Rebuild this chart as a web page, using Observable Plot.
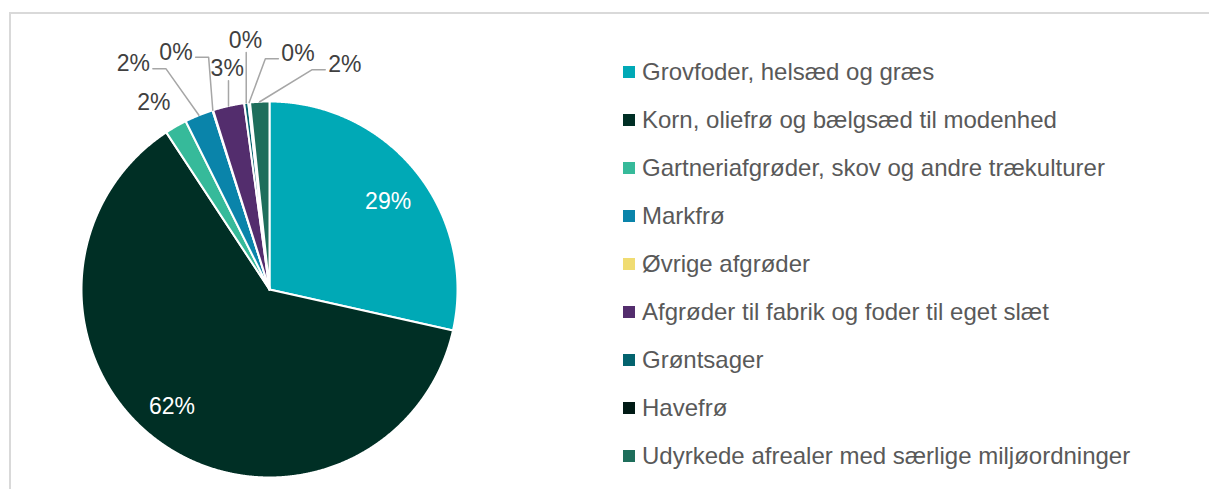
<!DOCTYPE html>
<html><head><meta charset="utf-8">
<script src="https://cdn.jsdelivr.net/npm/d3@7"></script>
<script src="https://cdn.jsdelivr.net/npm/@observablehq/plot@0.6"></script>
<style>
html,body{margin:0;padding:0;background:#fff;overflow:hidden}
#wrap{position:relative;width:1209px;height:489px;font-family:"Liberation Sans",Arial,sans-serif;overflow:hidden}
#frame{position:absolute;left:9px;top:12px;width:1300px;height:600px;border-top:2px solid #d9d9d9;border-left:2px solid #d9d9d9;box-sizing:border-box;pointer-events:none}
#chart{position:absolute;left:0;top:0}
#legend{position:absolute;left:623px;top:0}
.item{position:absolute;left:0;height:28px;display:flex;align-items:center;white-space:nowrap;font-size:24px;color:#595959}
.sw{width:12px;height:12px;margin-right:7px;flex:none}
</style></head><body>
<div id="wrap"><div id="chart"></div><div id="legend"></div><div id="frame"></div></div>
<script>
// ---- data ----
const categories = [
  "Grovfoder, helsæd og græs",
  "Korn, oliefrø og bælgsæd til modenhed",
  "Gartneriafgrøder, skov og andre trækulturer",
  "Markfrø",
  "Øvrige afgrøder",
  "Afgrøder til fabrik og foder til eget slæt",
  "Grøntsager",
  "Havefrø",
  "Udyrkede afrealer med særlige miljøordninger"
];
const shares = [28.5, 62.25, 1.9, 2.45, 0.05, 2.7, 0.35, 0.15, 1.65];
const colors = ["#00A9B6", "#002F25", "#36BA9A", "#0A84AA", "#F0DC72", "#532D6D", "#03636E", "#001A15", "#1E6E5B"];

// ---- layout (label placement relative to slice middle) ----
const labelLayout = [
  {da: 2.2, rf: 0.785}, {da: 5.15, rf: 0.81}, {da: -1.9, rf: 1.168}, {da: -9.05, rf: 1.403},
  {da: -3.95, rf: 1.357}, {da: 1.75, rf: 1.195}, {da: 1.6, rf: 1.331}, {da: 13.1, rf: 1.263}, {da: 21.5, rf: 1.261}
];
const W = 600, H = 489, CX = 269, CY = 289, R = 188, FS = 23;
const K = R; // pixels per unit

const total = d3.sum(shares);
let cum = 0;
const slices = categories.map((c, i) => {
  const a0 = cum / total * 2 * Math.PI;
  cum += shares[i];
  const a1 = cum / total * 2 * Math.PI;
  return {cat: c, color: colors[i], a0, a1, mid: (a0 + a1) / 2, label: Math.round(shares[i]) + "%", i};
});

const marks = [];
for (const s of slices) {
  const n = Math.max(2, Math.ceil((s.a1 - s.a0) / 0.004));
  const pts = [{x: 0, y: 0}];
  for (let k = 0; k <= n; k++) {
    const a = s.a0 + (s.a1 - s.a0) * k / n;
    pts.push({x: Math.sin(a), y: Math.cos(a)});
  }
  pts.push({x: 0, y: 0});
  marks.push(Plot.line(pts, {x: "x", y: "y", fill: s.color, stroke: "#fff", strokeWidth: 2, strokeLinejoin: "round"}));
}

const labelData = [];
const leaders = [];
for (const s of slices) {
  const L = labelLayout[s.i];
  const la = s.mid + L.da * Math.PI / 180;
  const lx = L.rf * Math.sin(la), ly = L.rf * Math.cos(la);
  const inside = L.rf < 1;
  labelData.push({x: lx, y: ly, text: s.label, fill: inside ? "#ffffff" : "#404040"});
  if (inside) continue;
  const px = Math.sin(s.mid), py = Math.cos(s.mid);
  const digits = s.label.length - 1;
  const halfW = (digits * 0.556 + 0.889) * FS / 2 / K;
  const halfH = 8.5 / K;
  const gx = Math.max(0, Math.abs(px - lx) - halfW), gy = Math.max(0, Math.abs(py - ly) - halfH);
  if (Math.hypot(gx, gy) * K < 22) continue;
  let pts;
  if (Math.abs(px - lx) < halfW) {
    pts = [{x: px, y: ly - 12 / K}, {x: px, y: py}];
  } else {
    const side = Math.sign(px - lx);
    const x0 = lx + side * (halfW + 3 / K);
    let x1 = x0 + side * 13 / K;
    if (side * (x1 - px) > 0) x1 = px;
    const y0 = ly - 5 / K;
    pts = [{x: x0, y: y0}, {x: x1, y: y0}, {x: px, y: py}];
  }
  leaders.push(...pts.map(p => ({...p, cat: s.cat})));
}
marks.push(Plot.line(leaders, {x: "x", y: "y", z: "cat", stroke: "#A6A6A6", strokeWidth: 1.5}));
marks.push(Plot.text(labelData, {x: "x", y: "y", text: "text", fill: d => d.fill, fontSize: FS, fontFamily: "Liberation Sans, Arial, sans-serif"}));

const plot = Plot.plot({
  width: W, height: H, margin: 0,
  x: {domain: [-CX / K, (W - CX) / K], axis: null},
  y: {domain: [(CY - H) / K, CY / K], axis: null},
  style: {background: "transparent", overflow: "visible"},
  marks
});
document.getElementById("chart").appendChild(plot);

// legend
const leg = document.getElementById("legend");
categories.forEach((c, i) => {
  const row = document.createElement("div");
  row.className = "item";
  row.style.top = (71 + i * 48.1 - 13.5) + "px";
  const sw = document.createElement("span");
  sw.className = "sw";
  sw.style.background = colors[i];
  const t = document.createElement("span");
  t.textContent = c;
  row.appendChild(sw); row.appendChild(t);
  leg.appendChild(row);
});
</script>
</body></html>
